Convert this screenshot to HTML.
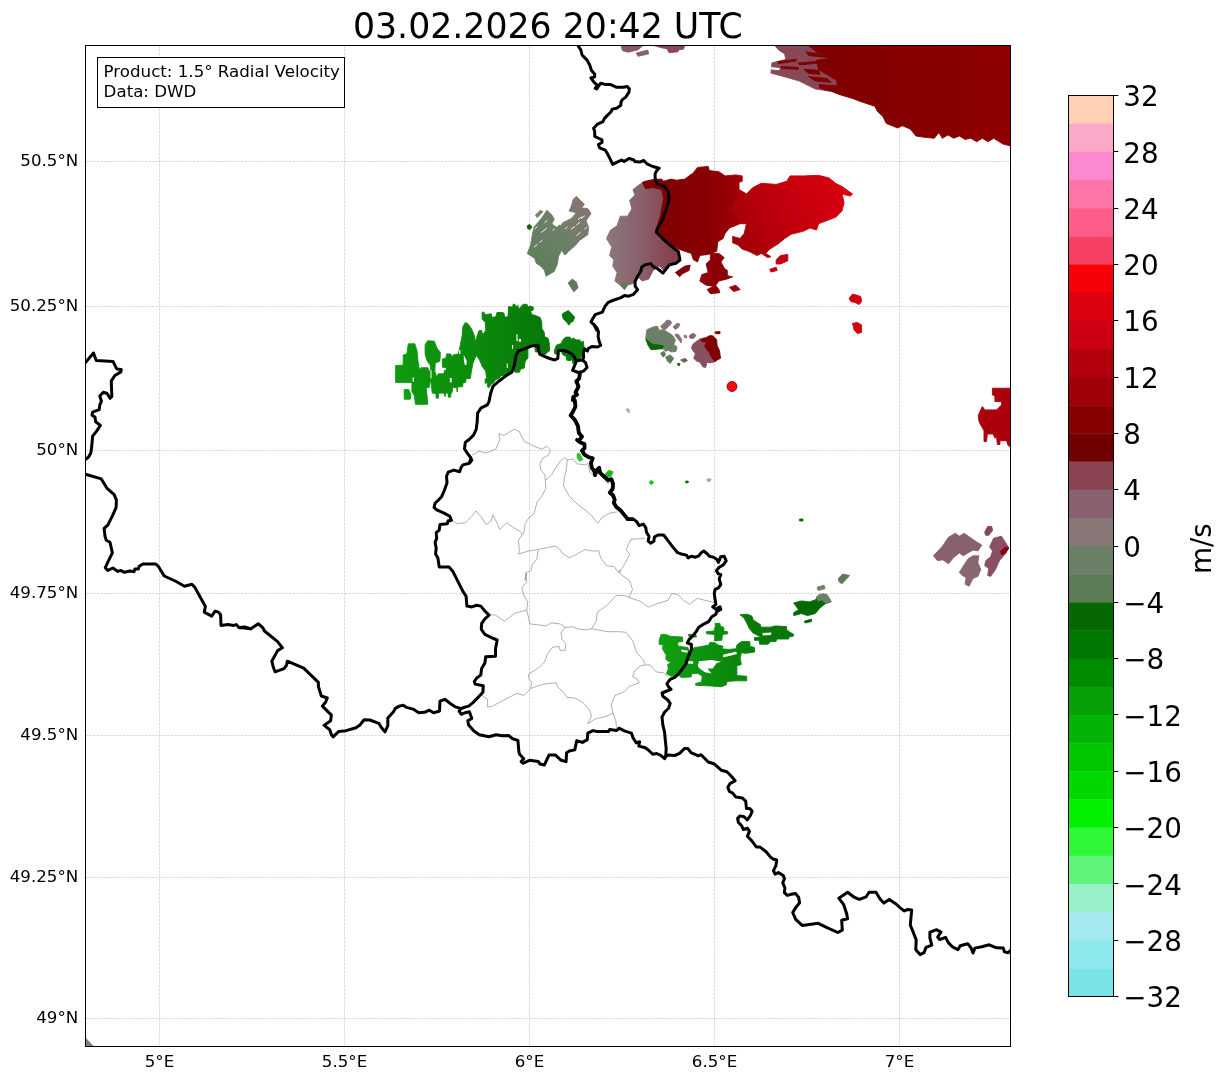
<!DOCTYPE html>
<html lang="en"><head><meta charset="utf-8"><title>03.02.2026 20:42 UTC - 1.5° Radial Velocity</title>
<style>html,body{margin:0;padding:0;background:#fff}body{width:1225px;height:1081px;overflow:hidden}svg{display:block}text{font-family:"DejaVu Sans","Liberation Sans",sans-serif;fill:#000}</style></head><body>
<svg width="1225" height="1081" viewBox="0 0 1225 1081">
<rect width="1225" height="1081" fill="#fff"/>
<defs><clipPath id="ax"><rect x="85.5" y="45.5" width="925.0" height="1001.0"/></clipPath></defs>
<g clip-path="url(#ax)">
<g stroke="#808080" stroke-opacity="0.45" stroke-width="0.65" stroke-dasharray="2.6,1.1" fill="none">
<line x1="159.5" y1="45.5" x2="159.5" y2="1046.5"/>
<line x1="344.5" y1="45.5" x2="344.5" y2="1046.5"/>
<line x1="529.5" y1="45.5" x2="529.5" y2="1046.5"/>
<line x1="714.5" y1="45.5" x2="714.5" y2="1046.5"/>
<line x1="899.5" y1="45.5" x2="899.5" y2="1046.5"/>
<line x1="85.5" y1="161.5" x2="1010.5" y2="161.5"/>
<line x1="85.5" y1="306.5" x2="1010.5" y2="306.5"/>
<line x1="85.5" y1="450.5" x2="1010.5" y2="450.5"/>
<line x1="85.5" y1="593.5" x2="1010.5" y2="593.5"/>
<line x1="85.5" y1="735.5" x2="1010.5" y2="735.5"/>
<line x1="85.5" y1="877.5" x2="1010.5" y2="877.5"/>
<line x1="85.5" y1="1018.5" x2="1010.5" y2="1018.5"/>
</g>
<defs>
<linearGradient id="gTR" gradientUnits="userSpaceOnUse" x1="800" y1="0" x2="1010" y2="0"><stop offset="0" stop-color="#7c0000"/><stop offset="0.5" stop-color="#860000"/><stop offset="1" stop-color="#8e0000"/></linearGradient>
<linearGradient id="gMV" gradientUnits="userSpaceOnUse" x1="610" y1="0" x2="672" y2="0"><stop offset="0" stop-color="#8b7679"/><stop offset="0.5" stop-color="#89606c"/><stop offset="1" stop-color="#88404e"/></linearGradient>
<linearGradient id="gDR" gradientUnits="userSpaceOnUse" x1="650" y1="0" x2="745" y2="0"><stop offset="0" stop-color="#7c0000"/><stop offset="0.65" stop-color="#8a0002"/><stop offset="1" stop-color="#a20006"/></linearGradient>
<linearGradient id="gBR" gradientUnits="userSpaceOnUse" x1="735" y1="245" x2="850" y2="185"><stop offset="0" stop-color="#9e0007"/><stop offset="0.3" stop-color="#b6000a"/><stop offset="0.6" stop-color="#c8000e"/><stop offset="1" stop-color="#d80010"/></linearGradient>
<linearGradient id="gGG" gradientUnits="userSpaceOnUse" x1="535" y1="265" x2="590" y2="205"><stop offset="0" stop-color="#5f7e5b"/><stop offset="0.5" stop-color="#6c8068"/><stop offset="1" stop-color="#8a7272"/></linearGradient>
<linearGradient id="gG5" gradientUnits="userSpaceOnUse" x1="400" y1="0" x2="550" y2="0"><stop offset="0" stop-color="#0e9a0e"/><stop offset="0.5" stop-color="#0b8a0b"/><stop offset="1" stop-color="#077607"/></linearGradient>
<linearGradient id="gG10" gradientUnits="userSpaceOnUse" x1="660" y1="0" x2="750" y2="0"><stop offset="0" stop-color="#10a010"/><stop offset="1" stop-color="#098209"/></linearGradient>
</defs>
<g stroke="none">
<path fill="url(#gTR)" stroke="url(#gTR)" stroke-width="0.9" d="M804.0,45.0 1012.0,45.0 1012.0,146.3 1002.9,144.0 993.7,138.3 988.0,141.7 982.3,138.3 976.6,141.7 970.9,138.3 965.1,139.4 959.4,136.0 953.7,138.3 948.0,134.9 942.3,138.3 938.9,132.6 934.3,138.3 922.9,137.1 916.0,136.0 910.3,129.1 902.3,125.7 897.7,128.0 886.3,123.4 882.9,116.6 877.1,110.9 874.9,106.3 861.1,101.7 852.0,98.3 840.6,94.9 831.4,91.4 824.6,90.3 836.0,83.4 817.7,69.7 815.4,59.4 833.7,57.1 817.7,53.7 806.3,46.9Z"/>
<path fill="#884858" stroke="#884858" stroke-width="0.9" d="M774.3,45.0 806.3,45.0 817.7,53.7 833.7,57.1 815.4,59.4 817.7,69.7 836.0,81.1 836.0,85.7 824.6,90.3 815.4,89.1 799.4,81.1 788.0,77.7 770.9,73.1 772.0,62.9 785.7,59.4 784.6,53.7 778.9,50.3Z"/>
<path fill="#800000" stroke="#800000" stroke-width="0.9" d="M806.3,51.9 833.7,56.0 832.6,58.3 808.6,55.5Z"/>
<path fill="#800000" stroke="#800000" stroke-width="0.9" d="M777.7,61.7 796.0,59.2 796.5,61.0 778.9,63.5Z"/>
<path fill="#800000" stroke="#800000" stroke-width="0.9" d="M781.1,66.5 798.3,67.4 798.3,69.3 781.6,68.6Z"/>
<path fill="#800000" stroke="#800000" stroke-width="0.9" d="M798.3,62.9 815.9,61.5 816.8,63.3 799.4,64.9Z"/>
<path fill="#800000" stroke="#800000" stroke-width="0.9" d="M804.0,69.3 818.9,70.2 820.0,74.3 808.6,73.4Z"/>
<path fill="#800000" stroke="#800000" stroke-width="0.9" d="M808.6,76.6 826.9,78.4 831.4,82.3 815.4,81.1Z"/>
<path fill="#800000" stroke="#800000" stroke-width="0.9" d="M818.9,84.6 836.0,85.7 826.9,89.8 820.0,88.5Z"/>
<path fill="#fff" stroke="#fff" stroke-width="0" d="M769.7,67.0 780.0,67.9 778.9,70.2 769.7,69.3Z"/>
<path fill="#885868" stroke="#885868" stroke-width="0.9" d="M621.1,45.6 642.9,45.6 638.0,49.8 628.2,52.2 622.4,50.6Z"/>
<path fill="#886070" stroke="#886070" stroke-width="0.9" d="M636.3,53.1 647.8,50.1 648.6,53.9 638.0,56.3Z"/>
<path fill="#884858" stroke="#884858" stroke-width="0.9" d="M654.3,45.6 684.5,45.6 683.7,49.0 678.8,49.8 678.0,51.8 669.0,52.7 667.3,49.0 661.6,47.8Z"/>
<path fill="url(#gMV)" stroke="url(#gMV)" stroke-width="0.9" d="M638.2,185.5 644.6,181.2 653.1,180.2 657.3,183.3 663.7,187.6 665.8,198.2 661.6,215.2 656.2,230.0 663.7,240.7 674.3,249.1 679.6,255.5 677.5,261.9 670.0,266.1 663.7,270.4 659.4,266.1 653.1,270.4 648.8,278.9 642.4,281.0 636.1,275.7 634.0,283.1 627.6,285.2 624.4,289.5 620.2,285.2 614.9,281.0 617.0,272.5 612.7,266.1 613.8,259.8 609.6,255.5 611.7,247.0 606.4,238.5 610.6,230.0 617.0,225.8 620.2,216.2 627.6,216.2 631.8,208.8 629.7,200.3 635.0,195.0 632.9,189.7Z"/>
<path fill="url(#gDR)" stroke="url(#gDR)" stroke-width="0.9" d="M642.4,182.3 653.1,179.5 661.6,179.1 663.7,181.2 671.1,179.1 676.4,180.2 684.9,179.1 693.4,172.7 697.6,167.4 708.2,166.4 709.3,170.6 718.9,171.7 725.2,175.9 735.8,174.9 742.2,175.9 742.2,181.2 739.0,182.3 739.0,189.7 746.4,194.0 748.6,198.2 735.8,202.4 729.5,210.9 738.0,216.2 740.1,223.7 729.5,227.9 725.2,233.2 723.1,238.5 717.8,241.7 716.7,251.3 708.2,254.4 699.8,255.5 697.6,261.9 693.4,259.8 691.3,253.4 684.9,251.3 678.5,249.1 670.0,243.8 661.6,238.5 656.2,230.0 660.5,215.2 663.7,198.2 661.6,189.7 653.1,187.6 645.6,188.7Z"/>
<path fill="url(#gBR)" stroke="url(#gBR)" stroke-width="0.9" d="M746.4,194.0 752.8,187.6 761.3,183.3 776.2,184.4 786.8,181.2 790.0,175.9 803.8,175.9 818.6,175.3 829.2,178.0 835.6,183.3 842.0,186.5 852.6,194.0 850.4,196.1 842.0,194.0 844.1,202.4 842.0,210.9 835.6,217.3 827.1,220.5 818.6,223.7 816.5,230.0 810.1,227.9 803.8,231.1 791.0,234.3 784.7,238.5 778.3,243.8 769.8,249.1 765.6,253.4 770.9,256.6 767.7,257.6 761.3,253.4 757.1,255.5 748.6,251.3 742.2,249.1 738.0,244.9 732.7,242.8 732.7,236.4 740.1,238.5 744.3,233.2 746.4,223.7 740.1,223.7 738.0,216.2 729.5,210.9 735.8,202.4 739.0,189.7Z"/>
<path fill="#800010" stroke="#800010" stroke-width="0.9" d="M675.3,272.5 684.9,266.1 690.2,265.1 689.1,270.4 682.8,273.6 679.6,276.7Z"/>
<path fill="#8c0008" stroke="#8c0008" stroke-width="0.9" d="M710.4,253.4 718.9,253.4 724.2,257.6 721.0,261.9 724.2,268.2 727.3,270.4 727.3,275.7 732.7,276.7 727.3,278.9 718.9,281.0 715.7,285.2 718.9,289.5 719.9,292.7 710.4,293.7 707.2,289.5 713.6,286.3 706.1,285.2 699.8,281.0 701.9,274.6 708.2,272.5 706.1,264.0 710.4,259.8Z"/>
<path fill="#a0000c" stroke="#a0000c" stroke-width="0.9" d="M729.5,287.3 735.8,285.2 740.1,289.5 733.7,291.6Z"/>
<path fill="#c00010" stroke="#c00010" stroke-width="0.9" d="M776.2,259.8 780.4,255.5 787.8,254.4 787.8,260.8 780.4,264.0 776.2,264.0Z"/>
<path fill="#c00010" stroke="#c00010" stroke-width="0.9" d="M769.8,269.3 776.2,267.2 777.2,270.4 770.9,272.1Z"/>
<path fill="#5c7c58" stroke="#5c7c58" stroke-width="0.9" d="M620.2,285.2 624.4,282.0 627.6,285.2 624.4,289.5Z"/>
<path fill="url(#gGG)" stroke="url(#gGG)" stroke-width="0.9" d="M527.3,253.5 530.6,245.3 532.2,235.5 533.9,227.3 538.0,222.4 542.0,217.6 546.9,210.2 551.8,215.1 554.3,219.2 551.8,224.1 556.7,227.3 563.3,222.4 571.4,218.4 576.3,212.7 569.0,211.0 571.4,206.1 573.1,199.6 576.3,196.3 584.5,204.5 581.2,207.8 587.8,208.6 591.0,213.5 586.1,220.8 588.6,227.3 587.8,234.7 579.6,240.4 575.5,245.3 568.2,251.8 564.9,255.1 561.6,250.2 558.4,256.7 557.6,263.3 554.3,271.4 548.6,274.7 546.1,276.3 544.5,270.6 541.2,266.5 536.3,263.3 534.7,258.4Z"/>
<path fill="#7a7a70" stroke="#7a7a70" stroke-width="0.9" d="M535.5,215.1 540.4,210.2 542.9,211.8 537.1,217.6Z"/>
<path fill="#5c7c58" stroke="#5c7c58" stroke-width="0.9" d="M568.2,282.9 572.2,279.1 576.3,282.0 578.0,287.8 573.9,291.8 570.6,286.9Z"/>
<path fill="#0a7010" stroke="#0a7010" stroke-width="0.9" d="M562.4,313.9 568.2,310.6 574.7,317.1 569.0,324.5 563.3,318.8Z"/>
<path fill="url(#gG5)" stroke="url(#gG5)" stroke-width="0.9" d="M395.6,382.4 395.6,365.6 403.2,365.1 403.2,355.0 406.8,353.9 408.3,343.8 414.9,343.8 417.0,350.9 418.0,361.1 419.5,370.2 421.0,367.7 427.7,367.7 429.2,371.2 430.7,370.2 430.2,365.1 427.2,361.1 425.1,353.9 425.1,344.8 427.7,340.7 434.3,341.2 436.8,347.8 440.4,352.4 439.9,361.1 435.3,363.1 434.8,371.2 436.8,377.4 438.3,373.8 443.9,373.8 444.5,370.2 446.5,370.2 446.5,367.7 442.4,367.2 442.4,359.0 446.0,358.0 446.5,353.9 450.6,353.9 452.1,357.0 453.1,355.0 458.2,353.9 460.2,345.8 462.3,334.6 462.8,327.0 465.3,322.4 467.9,323.9 471.4,328.5 474.0,334.6 475.5,341.7 477.5,334.6 479.1,330.5 481.6,330.5 482.6,334.6 485.7,330.5 485.2,321.9 482.1,319.3 482.1,312.2 484.1,312.2 485.2,314.8 491.3,313.7 491.8,318.3 495.9,316.8 496.9,312.7 503.0,312.7 504.0,317.3 508.1,316.8 508.6,306.6 510.0,306.6 510.0,371.2 507.0,375.8 501.5,375.3 499.9,371.2 497.9,378.4 492.8,378.9 492.3,382.4 489.2,387.5 487.7,387.0 487.2,382.4 485.2,383.5 485.2,378.9 486.7,378.4 485.7,371.2 482.1,366.2 479.6,360.1 477.5,357.0 476.0,355.5 475.5,357.0 473.0,363.1 471.4,371.2 470.4,378.4 465.8,378.9 465.8,382.4 462.8,383.0 462.8,386.5 457.7,387.0 457.2,392.1 456.7,387.5 452.6,387.5 452.1,392.6 451.1,392.6 450.6,397.2 448.5,397.2 448.0,393.1 445.5,393.1 445.0,396.7 443.9,393.1 438.9,393.1 438.3,398.2 436.3,398.2 435.8,393.6 432.2,393.1 431.7,388.5 430.7,378.9 429.2,387.5 426.1,388.0 427.2,396.7 427.7,404.3 415.4,404.3 414.4,395.7 411.9,391.6 411.9,382.4 400.2,382.4Z"/>
<path fill="#fff" stroke="#fff" stroke-width="0" d="M463.8,355.0 466.8,361.1 466.3,365.1 464.8,365.1 463.8,360.1Z"/>
<path fill="#fff" stroke="#fff" stroke-width="0" d="M459.0,349.9 460.4,349.9 460.4,353.9 459.0,353.9Z"/>
<path fill="#fff" stroke="#fff" stroke-width="0" d="M449.8,377.9 451.7,377.9 451.7,382.4 449.8,382.4Z"/>
<path fill="#fff" stroke="#fff" stroke-width="0" d="M412.6,377.4 414.0,377.4 414.0,381.4 412.6,381.4Z"/>
<path fill="#fff" stroke="#fff" stroke-width="0" d="M430.5,370.2 431.5,370.2 431.5,378.4 430.5,378.4Z"/>
<path fill="#10a010" stroke="#10a010" stroke-width="0.9" d="M404.2,389.6 408.8,389.6 410.9,394.7 410.4,399.2 404.2,399.2Z"/>
<path fill="url(#gG5)" stroke="url(#gG5)" stroke-width="0.9" d="M490.0,314.4 491.9,317.2 496.9,317.2 497.4,312.6 503.9,313.0 504.8,318.1 508.0,318.1 509.4,307.0 512.7,307.0 513.1,304.3 515.0,304.3 515.4,307.0 517.8,305.2 518.7,309.8 520.5,307.0 523.3,304.3 527.0,304.3 527.9,307.0 530.7,306.1 533.5,307.5 533.0,310.3 530.7,310.7 531.6,314.4 536.3,315.8 540.4,317.7 541.8,322.8 541.8,328.3 544.1,332.0 544.6,336.6 548.3,338.5 549.2,343.1 549.7,350.5 547.8,351.9 545.5,354.2 542.7,354.7 539.0,354.2 538.1,351.9 535.3,351.9 534.9,345.9 527.9,346.8 527.9,357.9 525.2,361.6 524.2,368.1 520.5,369.0 519.6,372.2 515.0,372.2 513.6,368.1 513.1,371.8 506.7,374.6 501.1,375.5 499.3,378.3 495.6,379.7 492.8,383.8 490.0,380.1Z"/>
<path fill="#fff" stroke="#fff" stroke-width="0" d="M516.4,334.3 517.6,334.3 517.6,341.3 516.4,341.3Z"/>
<path fill="#fff" stroke="#fff" stroke-width="0" d="M518.9,338.9 521.0,338.9 521.0,341.7 518.9,341.7Z"/>
<path fill="#fff" stroke="#fff" stroke-width="0" d="M512.0,345.0 513.1,345.0 513.1,348.7 512.0,348.7Z"/>
<path fill="#fff" stroke="#fff" stroke-width="0" d="M506.8,363.5 507.8,363.5 507.8,368.1 506.8,368.1Z"/>
<path fill="#087c08" stroke="#087c08" stroke-width="0.9" d="M554.3,350.5 556.6,345.0 561.2,343.6 563.1,339.4 565.9,337.1 570.0,337.1 571.4,339.4 573.3,338.0 576.0,339.9 579.7,339.9 581.1,342.2 583.4,341.3 583.9,346.8 585.3,347.7 582.5,354.2 580.7,358.8 577.0,358.8 575.1,363.0 572.8,363.5 572.3,359.8 569.6,360.7 566.8,360.2 565.9,356.1 563.1,355.1 561.2,351.4 558.5,351.0 556.6,354.2 554.8,353.7Z"/>
<path fill="#087808" stroke="#087808" stroke-width="0.9" d="M562.2,315.8 564.0,313.0 568.6,311.2 571.0,313.5 571.4,316.7 574.7,317.2 572.8,321.8 570.0,322.3 569.6,324.6 568.2,324.6 567.7,320.9 564.0,319.1Z"/>
<path fill="#066800" stroke="#066800" stroke-width="0.9" d="M527.3,225.7 529.5,224.4 531.9,226.5 530.3,229.5 527.7,228.7Z"/>
<path fill="#6c8068" stroke="#6c8068" stroke-width="0.9" d="M645.7,337.7 646.9,329.7 653.1,326.9 657.7,326.3 658.9,330.3 663.4,329.7 669.1,333.1 672.6,335.4 675.4,340.0 673.7,344.6 677.1,346.9 676.0,351.4 671.4,352.0 668.0,350.3 665.7,351.4 663.4,349.1 660.0,348.6 654.3,349.1 650.9,349.1 648.6,344.6Z"/>
<path fill="#066800" stroke="#066800" stroke-width="0.9" d="M645.7,338.9 652.0,344.0 658.9,345.1 663.4,345.7 662.3,348.6 654.3,349.4 650.9,349.6 648.0,345.1Z"/>
<path fill="#887078" stroke="#887078" stroke-width="0.9" d="M660.6,326.3 665.1,322.3 666.9,320.0 670.9,321.1 671.4,323.4 668.0,326.9 665.1,329.7 662.9,329.1Z"/>
<path fill="#887078" stroke="#887078" stroke-width="0.9" d="M673.1,326.9 677.1,323.4 680.0,324.0 678.3,327.4 675.4,329.5Z"/>
<path fill="#887078" stroke="#887078" stroke-width="0.9" d="M674.9,334.3 678.3,334.3 681.7,339.4 681.1,342.9 678.9,340.0 676.0,336.6Z"/>
<path fill="#887078" stroke="#887078" stroke-width="0.9" d="M684.0,335.4 686.3,335.4 686.9,337.7 684.6,337.7Z"/>
<path fill="#886070" stroke="#886070" stroke-width="0.9" d="M689.1,336.0 693.1,333.1 696.0,335.4 693.7,338.3 690.3,338.3Z"/>
<path fill="#5c7c58" stroke="#5c7c58" stroke-width="0.9" d="M660.6,353.1 664.0,351.4 665.7,354.9 662.9,357.1Z"/>
<path fill="#5c7c58" stroke="#5c7c58" stroke-width="0.9" d="M665.7,357.1 670.3,354.9 673.7,358.3 670.3,363.4 667.4,361.1Z"/>
<path fill="#706058" stroke="#706058" stroke-width="0.9" d="M680.6,360.0 685.1,358.3 687.4,360.6 684.0,362.3Z"/>
<path fill="#066800" stroke="#066800" stroke-width="0.9" d="M677.7,363.4 680.0,363.4 679.4,365.7 677.7,365.1Z"/>
<path fill="#885060" stroke="#885060" stroke-width="0.9" d="M691.4,348.0 693.1,344.0 696.0,341.7 700.0,338.9 704.6,337.7 706.9,342.3 704.6,345.7 706.9,350.3 710.3,354.9 714.9,361.7 710.3,362.9 706.9,362.3 705.7,367.4 702.9,366.9 700.0,362.3 696.6,361.1 693.7,358.3 695.4,353.7 693.1,350.9Z"/>
<path fill="#800000" stroke="#800000" stroke-width="0.9" d="M700.6,340.0 704.6,338.3 710.3,335.4 713.1,336.0 716.6,339.4 717.1,345.7 719.4,350.3 720.6,358.3 717.1,360.0 714.9,361.7 711.4,357.1 709.1,352.6 706.3,349.1 704.6,345.7 706.9,342.3 702.3,341.7Z"/>
<path fill="#800000" stroke="#800000" stroke-width="0.9" d="M714.9,332.0 720.0,331.4 720.0,333.7 715.4,333.7Z"/>
<path fill="#d00010" stroke="#d00010" stroke-width="0.9" d="M849.1,298.3 852.5,294.2 856.6,295.0 860.8,296.7 861.6,301.6 859.1,304.6 855.0,302.5 850.8,301.6Z"/>
<path fill="#d00010" stroke="#d00010" stroke-width="0.9" d="M852.5,323.3 857.5,322.5 861.6,325.0 861.6,332.5 857.5,333.6 854.1,330.0Z"/>
<path fill="#ac000c" stroke="#ac000c" stroke-width="0.9" d="M992.4,388.2 1010.7,388.2 1010.7,446.5 1008.2,445.7 1006.5,440.7 999.9,440.7 999.9,444.5 997.4,444.5 996.5,436.5 994.9,438.2 993.2,434.0 987.4,434.0 986.5,441.5 984.0,441.5 984.0,430.7 981.5,426.5 979.0,421.5 978.2,415.7 980.7,409.9 982.4,406.6 984.9,409.9 996.5,409.9 1001.5,404.9 1001.5,401.6 994.9,401.6 994.9,395.7 992.4,394.9Z"/>
<path fill="#886070" stroke="#886070" stroke-width="0.9" d="M933.4,555.8 942.6,546.0 948.5,537.2 955.3,533.3 959.3,536.2 964.2,533.3 974.0,540.2 981.8,545.1 977.9,550.9 973.0,550.0 968.1,552.9 963.2,555.8 959.3,552.9 953.4,557.8 948.5,563.7 942.6,559.8 937.7,560.7Z"/>
<path fill="#88686e" stroke="#88686e" stroke-width="0.9" d="M959.3,572.5 964.2,564.7 968.1,558.8 973.0,555.8 978.9,555.8 977.9,562.7 980.8,569.6 977.9,576.4 973.0,578.4 969.1,586.2 965.1,584.2 966.1,577.4 962.2,575.4Z"/>
<path fill="#884450" stroke="#884450" stroke-width="0.9" d="M984.7,532.3 987.7,526.4 991.6,526.4 992.6,530.4 988.7,535.3 985.7,535.3Z"/>
<path fill="#885062" stroke="#885062" stroke-width="0.9" d="M989.6,547.0 993.6,538.2 1001.4,536.2 1005.3,542.1 1008.8,548.0 1005.3,553.9 999.4,560.7 995.5,569.6 990.6,576.4 987.7,575.4 988.7,568.6 984.7,565.6 985.7,560.7 990.6,556.8 992.6,550.9Z"/>
<path fill="#8c0010" stroke="#8c0010" stroke-width="0.9" d="M1000.4,551.3 1005.3,547.0 1008.8,548.0 1005.3,553.3 1001.8,554.9Z"/>
<path fill="#066800" stroke="#066800" stroke-width="0.9" d="M793.7,602.9 801.6,600.9 809.4,601.9 815.3,599.9 818.2,596.0 824.1,594.0 828.0,597.0 830.9,601.9 825.1,603.8 819.2,608.7 815.3,613.6 807.4,615.6 801.6,613.6 793.7,615.6 793.7,612.7 798.6,609.7Z"/>
<path fill="#6c8068" stroke="#6c8068" stroke-width="0.9" d="M816.2,597.0 820.2,594.0 827.0,594.4 831.3,601.5 826.0,603.4 822.1,599.9 818.2,600.9Z"/>
<path fill="#6c8068" stroke="#6c8068" stroke-width="0.9" d="M817.2,587.2 824.1,585.2 825.1,588.6 818.2,590.5Z"/>
<path fill="#5c7c58" stroke="#5c7c58" stroke-width="0.9" d="M838.4,578.4 842.7,574.1 849.6,575.4 845.6,579.9 841.7,583.9 838.8,581.3Z"/>
<path fill="#066800" stroke="#066800" stroke-width="0.9" d="M799.6,519.0 802.9,519.0 802.9,521.0 799.6,521.0Z"/>
<path fill="#066800" stroke="#066800" stroke-width="0.9" d="M804.5,621.1 811.3,619.1 811.7,621.5 805.1,623.0Z"/>
<path fill="url(#gG10)" stroke="url(#gG10)" stroke-width="0.9" d="M659.1,640.3 661.1,634.4 665.7,634.4 670.9,636.4 682.7,637.0 682.7,641.6 677.4,642.2 678.1,646.2 687.9,647.5 689.2,651.4 694.4,647.5 700.3,646.8 708.8,644.9 710.1,642.2 715.3,642.9 717.9,644.9 723.1,646.2 721.8,648.8 728.4,649.4 736.2,648.8 736.9,644.9 741.4,641.6 749.9,641.6 749.9,646.2 754.5,647.5 754.5,652.0 746.0,653.3 741.4,652.7 740.1,657.9 741.4,664.4 736.9,665.8 736.9,675.6 746.7,676.2 746.7,680.8 736.2,680.8 727.1,681.4 726.4,684.7 721.2,686.7 711.4,686.0 695.7,685.3 695.7,683.4 701.6,682.1 702.2,676.2 698.3,673.6 691.8,673.6 691.1,676.9 681.3,677.5 678.1,674.9 670.9,676.2 666.3,673.6 668.3,669.0 667.6,664.4 670.9,663.1 665.7,659.2 666.3,655.3 662.4,648.8 663.1,644.9 659.1,644.2Z"/>
<path fill="#fff" stroke="#fff" stroke-width="0" d="M699.0,661.2 711.4,659.9 721.2,661.8 716.6,663.1 712.7,668.4 707.5,668.4 711.4,673.6 704.9,672.3 699.6,668.4 697.7,665.8Z"/>
<path fill="#fff" stroke="#fff" stroke-width="0" d="M723.1,654.7 736.2,651.4 736.9,654.0 727.1,656.6 723.1,657.3Z"/>
<path fill="#fff" stroke="#fff" stroke-width="0" d="M681.3,649.4 687.9,650.7 687.2,652.7 681.3,651.4Z"/>
<path fill="#fff" stroke="#fff" stroke-width="0" d="M687.9,661.2 693.1,661.2 693.1,663.8 688.5,663.8Z"/>
<path fill="#0c8c0c" stroke="#0c8c0c" stroke-width="0.9" d="M706.2,631.8 714.0,631.1 715.3,626.6 715.3,623.3 719.9,623.3 720.5,626.6 723.8,627.2 723.8,631.1 727.7,631.8 727.7,633.8 722.5,634.4 721.8,640.3 714.7,640.9 714.7,634.4 706.8,633.8Z"/>
<path fill="#087808" stroke="#087808" stroke-width="0.9" d="M740.1,614.8 747.3,614.2 751.9,616.1 753.2,620.0 760.4,624.6 761.0,627.2 770.2,627.2 775.4,625.9 786.5,626.6 786.5,629.2 789.1,631.8 793.7,634.4 793.0,636.4 789.8,636.4 788.4,639.0 776.7,639.0 776.0,641.6 770.2,641.6 768.2,644.2 759.7,644.2 759.1,640.3 754.5,640.3 754.5,637.7 761.0,637.0 753.2,633.1 749.3,628.5 747.3,624.0 744.0,618.1Z"/>
<path fill="#fff" stroke="#fff" stroke-width="0" d="M762.3,633.1 771.5,632.4 770.8,635.1 763.0,635.5Z"/>
<path fill="#0c860c" stroke="#0c860c" stroke-width="0.9" d="M688.5,634.4 695.7,634.4 696.4,637.0 689.2,637.0Z"/>
<path fill="#30c030" stroke="#30c030" stroke-width="0.9" d="M577.1,453.9 579.6,453.1 582.9,459.6 579.6,461.2 577.1,458.0Z"/>
<path fill="#20b820" stroke="#20b820" stroke-width="0.9" d="M604.1,475.1 609.0,470.2 613.1,471.8 611.4,475.9 607.3,477.6 608.2,483.3 605.7,480.8Z"/>
<path fill="#18c018" stroke="#18c018" stroke-width="0.9" d="M649.1,482.4 651.4,480.2 653.7,482.4 651.4,484.7Z"/>
<path fill="#066800" stroke="#066800" stroke-width="0.9" d="M685.7,481.1 688.2,481.1 688.2,482.8 685.7,482.8Z"/>
<path fill="#90b090" stroke="#90b090" stroke-width="0.9" d="M706.9,479.2 711.0,478.9 710.2,481.1 707.8,481.6Z"/>
<path fill="#90b8a0" stroke="#90b8a0" stroke-width="0.9" d="M626.1,409.0 629.1,409.0 629.1,413.1 627.4,411.4Z"/>
<g stroke="#fff" stroke-width="0.9" fill="none"><path d="M534.7,229.0 L537.5,226.4"/><path d="M541.2,232.6 L546.9,228.0"/><path d="M552.7,230.6 L554.4,228.8"/><path d="M560.0,225.1 L562.0,223.4"/><path d="M571.1,229.3 L575.0,226.4"/><path d="M576.3,225.1 L579.9,222.3"/><path d="M581.2,218.5 L584.8,215.8"/><path d="M533.9,247.3 L537.5,244.3"/><path d="M539.6,242.4 L542.4,240.2"/><path d="M576.3,235.8 L580.6,232.2"/><path d="M584.5,229.3 L587.1,227.2"/><path d="M578.0,219.3 L582.2,216.6"/><path d="M544.5,222.8 L547.3,220.2"/><path d="M564.9,229.0 L567.5,227.0"/></g>
<path fill="#808080" d="M85,1037 L94.5,1047 L85,1047Z"/>
</g>
<g fill="none" stroke="#8c8c8c" stroke-width="0.7" stroke-linejoin="round">
<path d="M472.3,455.1 479.2,451.1 486.0,453.1 495.8,449.2 499.8,439.4 498.8,433.5 503.7,435.5 514.4,429.2 519.3,431.6 524.2,441.3 534.0,446.2 541.9,449.2 546.8,446.2 550.7,450.2 548.7,455.1 542.9,458.0 539.9,463.9 540.9,469.8 544.8,474.7 545.4,480.5 545.8,488.4 541.9,496.2 537.0,502.1 534.0,513.8 528.2,518.7 525.2,523.6 524.2,531.5 522.3,534.4"/>
<path d="M451.8,519.7 456.7,523.6 465.5,522.7 471.3,516.8 476.2,510.9 481.1,516.8 486.0,524.6 490.9,521.7 492.9,514.8 496.8,522.7 499.8,529.5 506.6,522.7 513.5,527.6 520.3,531.5 523.3,535.4"/>
<path d="M522.3,534.4 518.4,540.3 519.3,550.1 518.4,554.0 528.2,551.1 538.0,549.5 549.7,547.1 555.6,546.2 559.5,549.1 563.4,554.0 569.3,557.9 577.1,554.0 585.0,549.5 592.8,551.1 598.7,550.7 600.7,557.9 606.5,565.8 614.4,566.7 618.3,572.6 619.9,570.0 619.9,572.9 622.8,575.9 629.7,580.8 632.6,589.6 628.7,597.4 624.8,595.5 616.0,595.5 607.1,605.3 597.3,612.1 596.4,620.9 591.5,628.8"/>
<path d="M538.0,550.1 537.0,558.9 532.1,564.8 531.1,570.7 526.2,572.6 525.2,580.4 525.8,572.9 526.8,581.8 521.9,587.6 523.9,595.5 527.8,602.3 526.8,610.2 528.8,619.0 529.8,623.9"/>
<path d="M545.4,480.5 551.7,474.7 555.6,467.8 560.5,460.9 564.4,457.6 567.3,460.0 566.4,468.8 564.4,477.6 563.4,485.4 569.3,496.2 577.1,504.0 585.0,509.9 591.8,515.8 597.7,523.2 602.6,516.8 610.4,512.9 617.3,511.9"/>
<path d="M567.3,460.0 573.2,459.0 577.1,463.9 586.0,464.9 587.9,462.9 589.9,472.7 594.8,475.6"/>
<path d="M644.7,538.3 637.9,538.9 631.0,539.3 628.1,545.2 626.1,550.1 630.0,554.0 624.2,564.8 619.3,572.6"/>
<path d="M489.6,614.7 495.5,615.1 504.3,621.3 515.1,613.1 526.8,610.2"/>
<path d="M529.8,623.9 538.6,624.9 546.4,625.8 551.3,622.9 560.1,623.9 565.0,627.4 571.9,626.8 577.8,628.8 585.6,629.8 591.5,628.8 597.3,629.8 607.1,631.7 618.9,631.7 625.8,632.3 632.6,640.5 636.5,652.3 643.4,660.1 645.3,665.0"/>
<path d="M628.7,597.4 640.4,601.3 648.3,607.2 658.1,603.3 667.9,600.4 671.8,593.5 677.7,594.5 683.6,600.4 689.4,604.3 697.3,598.4 708.0,601.0 713.9,602.5"/>
<path d="M565.0,627.4 561.1,632.7 562.1,639.6 566.0,643.5 565.0,650.3 560.1,650.3 559.1,646.4 552.3,647.4 547.4,654.2 544.4,662.1 538.6,668.0 528.8,673.8 528.4,677.8 531.7,682.7 530.7,688.5"/>
<path d="M530.7,688.5 538.6,685.6 547.4,683.6 556.2,682.7 558.2,687.6 564.0,692.4 567.0,697.3 575.8,698.3 583.6,703.2 589.5,710.1 591.5,716.0 587.6,723.8 595.4,718.9 607.1,716.0 613.0,713.0"/>
<path d="M481.8,695.4 487.6,699.3 487.6,707.1 492.5,706.2 501.3,701.3 509.2,697.3 517.0,693.4 523.9,695.4 530.7,688.5"/>
<path d="M613.0,713.0 611.1,705.2 615.0,695.4 624.8,691.5 628.7,686.6 639.5,682.7 636.5,678.7 632.6,676.8 634.6,670.9 640.4,666.0 645.3,665.0 650.2,665.0 656.1,671.9 664.0,672.9 667.9,676.8"/>
<path d="M613.0,713.0 616.0,721.8 616.5,727.7"/>
</g>
<g fill="none" stroke="#000" stroke-width="3.0" stroke-linejoin="round" stroke-linecap="butt">
<path d="M577.9,45.7 580.8,49.8 582.1,55.0 587.3,60.4 589.8,65.3 591.4,70.2 594.7,74.3 594.7,76.7 590.9,77.9 593.9,82.1 597.5,85.4 595.2,88.3 596.8,89.0 598.8,85.7 600.7,83.3 605.3,84.4 610.2,84.4 616.7,87.3 623.3,87.3 627.3,86.5 629.3,88.7 629.0,92.2 625.7,97.1 622.4,99.6 621.1,101.7 620.8,105.3 616.7,108.2 612.2,109.1 611.0,111.8 606.9,115.9 604.5,118.4 602.9,121.6 597.1,124.4 593.6,128.2 594.7,131.4 594.7,136.3 598.0,138.0 602.0,139.9 602.0,142.5 598.4,144.5 599.6,147.8 605.3,150.2 607.8,154.3 610.2,159.2 612.7,164.4 616.7,162.4 621.6,160.0 624.1,161.6 629.0,158.4 633.9,160.0 634.7,161.6 639.6,162.1 643.7,160.5 646.9,163.8 652.7,166.5 659.2,168.2 656.7,170.6 655.1,173.9 655.1,178.0 656.7,182.9 658.0,184.1 664.5,186.5 668.6,192.2 669.1,199.6 666.1,209.4 662.9,219.2 657.1,229.0 656.3,232.2 662.9,238.8 670.2,245.3 678.4,251.8 680.0,260.0 675.9,263.3 669.4,264.9 666.1,269.0 662.9,273.1 658.0,269.0 653.1,266.5 650.6,263.6 644.9,264.9 641.6,267.3 640.8,271.4 637.6,276.3 635.1,281.2 635.1,286.1 637.6,289.7 633.5,294.3 628.6,296.2 624.5,295.6 620.4,297.9 613.9,300.0 608.2,302.4 604.9,306.5 602.4,312.2 595.1,314.7 592.7,318.8 591.0,322.0 594.3,325.3 596.7,330.2 594.0,324.4 597.0,328.1 598.5,331.8 598.1,336.3 599.2,341.5 600.7,345.2 597.7,347.0 591.8,346.6 588.1,348.5 587.4,351.1 584.4,349.2 583.3,352.6 583.7,357.0 582.6,360.3"/>
<path d="M582.6,360.3 585.5,362.6 587.0,367.4 583.7,371.1 578.5,372.5 572.6,370.3 576.3,361.4 578.5,360.3 582.6,360.3"/>
<path d="M580.0,372.2 579.2,378.5 576.3,381.4 577.7,384.4 578.5,386.6 577.0,389.6 575.5,392.2 577.0,394.7 573.3,397.0 572.9,400.0 574.7,400.0 575.5,406.5 573.1,411.4 570.6,415.5 574.7,419.6 578.0,426.1 578.8,432.7 582.0,436.7 578.8,440.8 577.1,440.0 580.4,442.4 584.5,444.1 584.5,448.2 582.0,450.6 584.5,454.7 588.6,457.1 592.7,458.3 591.0,462.9 591.8,467.8 594.3,471.0 595.1,475.1 596.7,470.2 599.2,467.8 600.0,472.7 604.1,476.7 608.2,480.0 611.4,479.2 613.1,484.1 612.6,489.0 609.8,492.6 613.1,495.5 614.7,499.6 613.9,502.9 616.3,506.9 620.4,510.2 624.5,515.1 627.8,519.2 633.5,519.2 636.7,521.6 639.2,525.7 643.3,524.1 645.7,527.3 646.5,532.2 649.0,536.3 648.2,541.2 650.6,543.2 653.9,541.2 654.4,537.1 658.0,535.0 663.7,535.0 667.8,540.4 672.7,546.9 677.6,552.7 682.4,554.3 686.5,555.1 688.2,557.9 691.4,556.2 695.5,557.2 698.8,555.9 701.2,552.7 703.7,551.0 706.9,553.5 709.4,556.2 713.5,557.2 716.7,559.2 718.4,562.4 720.8,556.7 724.1,556.2 726.2,560.8 723.3,564.9 719.2,567.3 716.4,570.6 718.4,573.9 720.8,574.7 719.2,578.8 720.8,584.5 718.4,587.8 715.1,589.4 714.3,593.5 715.1,600.0 715.1,599.6 715.9,604.5 712.7,606.9 715.9,609.4 720.0,606.9 720.8,609.4 716.7,611.8 715.9,614.3 711.8,616.7 708.6,621.6 703.7,624.1 698.8,627.3 696.3,631.4 693.1,635.5 689.0,639.6 687.3,642.9 691.4,644.5 691.4,649.4 688.2,656.7 685.7,664.1 680.0,672.2 675.1,677.1 670.2,679.3 666.9,683.7 668.6,686.9 671.0,689.4 666.9,691.0 662.0,693.0 662.9,696.2 667.8,700.0 670.2,703.3 668.6,708.2 664.5,712.2 662.0,717.1 662.9,725.3 664.5,731.8 665.3,740.0 666.2,748.6 665.7,756.7"/>
<path d="M576.3,361.4 574.8,357.7 571.8,354.0 567.4,351.5 562.2,350.3 558.5,350.7 558.1,354.8 557.8,358.5 554.8,360.0 549.6,358.5 544.4,356.3 540.0,354.4 538.8,351.0 538.0,345.3 531.4,346.1 524.9,348.6 518.4,351.0 515.9,355.9 514.3,365.7 511.8,372.2 505.3,376.3 498.8,381.2 493.1,386.1 490.6,393.5 489.0,401.6 487.3,404.9 480.8,408.2 477.6,413.1 477.2,421.2 476.2,429.4 473.5,435.1 469.4,439.2 465.3,442.4 464.5,449.0 467.8,453.9 471.0,458.0 469.4,462.9 471.8,460.0 469.4,463.3 462.9,464.9 461.2,467.3 459.6,471.8 453.9,470.1 448.2,472.2 446.5,476.3 447.0,482.9 444.1,491.0 441.6,496.7 439.2,499.2 435.1,503.3 434.0,507.3 436.7,509.8 444.1,513.1 449.8,516.3 451.4,520.4 448.2,520.7 447.3,523.7 440.0,524.5 439.2,530.2 436.2,532.7 436.7,538.4 435.1,542.4 436.2,548.2 435.6,553.9 437.9,558.0 439.2,566.9 449.0,566.9 453.1,571.8 458.0,581.6 462.9,591.4 466.1,596.3 466.9,606.1 471.8,606.9 476.7,605.3 480.8,606.1 484.9,611.0 489.0,615.1 484.9,618.8 481.6,623.7 481.3,629.4 484.9,634.3 491.4,637.6 497.1,640.0 495.5,649.0 495.5,656.3 485.7,656.7 484.9,662.9 481.6,668.6 480.8,675.1 476.7,678.0 474.3,681.6 475.1,684.1 483.3,685.7 482.9,692.2 478.4,697.1 472.7,702.9 468.6,706.1 462.9,707.8 461.2,708.6"/>
<path d="M461.2,708.6 459.1,711.0 461.2,714.3 465.3,712.7 469.4,711.8 471.8,718.4 467.8,720.8 468.6,724.9 473.5,730.6 479.2,734.7 489.0,736.8 496.3,734.7 502.0,735.8 508.6,735.5 512.7,738.8 517.9,740.4 518.9,751.8 519.6,754.3 523.7,758.7 521.2,761.6 522.9,763.3 529.4,760.3 538.4,761.6 540.0,764.1 544.4,764.9 549.0,755.1 555.5,755.1 561.2,760.3 566.1,761.6 566.6,752.7 569.4,751.0 574.8,749.9 576.7,740.7 582.4,742.4 587.3,739.6 587.8,733.1 593.1,730.6 596.3,731.4 608.6,731.4 609.7,729.5 616.7,730.6 618.9,728.2 624.9,731.1 631.4,733.1 633.1,738.0 636.3,742.9 639.6,741.7 638.8,746.1 645.3,747.8 648.6,750.2 652.7,754.3 656.7,753.5 660.8,755.4 664.6,758.7 665.7,756.7"/>
<path d="M664.9,757.1 668.2,755.0 674.7,755.5 679.6,753.4 684.5,748.5 687.8,748.5 691.0,752.7 698.4,755.8 701.1,754.7 708.2,762.0 713.9,763.7 721.2,770.2 726.9,771.8 731.8,776.7 735.1,780.8 730.2,783.3 727.8,787.3 729.4,791.4 732.7,793.1 735.9,797.1 742.4,798.0 745.7,801.2 746.5,808.6 749.8,808.6 752.2,811.0 750.6,815.1 747.3,820.0 744.1,816.7 740.0,815.9 737.6,818.4 738.4,822.4 741.6,825.7 743.3,829.5 747.3,828.2 749.5,831.4 747.3,836.3 751.4,840.4 756.3,846.9 759.6,846.9 766.1,851.8 771.0,857.6 773.5,859.2 776.7,860.0 775.9,865.7 773.5,870.6 775.1,874.2 778.4,872.6 783.3,875.5 784.4,878.8 782.8,882.9 784.9,887.8 784.4,892.7 787.3,895.4 791.4,894.3 795.5,893.5 798.0,896.7 798.6,897.2 799.6,902.7 795.7,907.6 792.7,912.5 795.7,919.3 802.5,925.6 809.4,924.6 818.2,923.3 827.0,927.6 837.8,932.5 842.3,930.1 841.7,920.3 847.6,918.8 846.6,913.5 843.7,904.7 838.8,898.2 847.6,892.3 853.5,896.8 859.3,899.4 866.2,896.8 869.1,892.3 876.0,892.3 879.9,898.8 883.8,903.1 889.3,899.4 895.6,903.7 901.5,909.0 904.4,910.9 907.3,909.6 911.7,909.9 910.9,918.4 910.3,925.2 913.2,932.1 916.2,939.9 915.8,949.7 920.1,954.6 924.0,952.7 926.0,947.4 931.8,945.2 929.9,938.0 929.9,932.1 936.7,929.7 941.0,932.1 937.7,937.0 939.7,939.5 945.6,937.4 948.5,942.9 952.4,946.8 957.9,949.7 960.2,945.8 967.7,943.8 971.0,947.8 973.0,953.0 974.9,948.1 981.8,946.8 989.2,944.8 996.5,947.8 1003.3,948.1 1004.3,951.7 1008.2,952.7 1011.2,949.7"/>
<path d="M461.2,708.6 455.5,706.9 450.6,703.7 444.9,699.3 440.0,701.2 439.5,711.0 439.2,711.3 433.5,712.7 429.4,710.2 424.5,712.3 418.8,712.7 413.1,709.1 406.5,707.4 403.3,705.3 399.2,706.1 395.1,708.6 393.5,711.8 387.8,717.9 387.8,725.7 385.0,731.9 381.2,727.3 378.8,723.3 369.8,720.0 364.1,719.7 360.0,724.9 355.9,727.7 344.5,731.1 338.8,731.4 333.1,736.8 331.4,734.7 329.8,729.8 324.1,725.4 330.6,720.8 331.4,715.1 322.4,706.1 325.7,702.0 327.3,698.0 321.3,696.0 318.4,686.5 318.4,682.4 303.7,668.2 287.3,661.2 286.5,665.3 284.1,668.6 275.1,671.8 273.5,667.8 271.8,661.2 277.6,650.6 282.4,647.8 277.6,641.6 264.5,631.0 262.9,627.8 258.3,623.7 250.6,628.9 244.1,626.9 240.0,627.4 250.2,628.7 244.7,626.9 239.1,627.8 236.3,624.6 233.6,625.4 228.0,624.5 221.0,625.4 220.6,614.8 218.4,612.1 215.1,611.1 211.7,616.1 204.3,612.1 205.4,606.5 200.3,597.3 194.7,587.1 191.9,584.3 184.5,586.2 176.2,581.5 164.2,576.0 158.6,566.7 155.9,564.0 142.9,564.0 139.2,566.2 138.3,569.1 134.9,569.1 134.0,571.7 130.0,571.0 124.4,572.3 120.7,570.4 117.9,571.4 112.9,568.0 107.8,570.4 105.3,567.7 107.8,562.1 112.4,552.9 110.0,542.3 106.3,540.3 105.0,536.2 104.1,528.4 107.8,525.1 112.4,515.9 116.1,507.5 116.4,500.1 114.2,494.6 106.8,488.1 101.3,478.9 83.7,473.7"/>
<path d="M84.2,364.0 93.5,353.0 96.2,360.4 113.1,361.6 116.7,368.9 121.2,369.5 120.9,371.9 114.9,375.5 111.3,380.9 111.5,388.1 111.9,396.5 110.1,398.3 107.1,393.5 103.4,392.3 99.8,395.9 101.4,401.3 99.8,404.9 99.2,409.7 92.6,412.1 92.0,415.2 95.0,417.0 95.6,421.8 100.4,425.4 96.8,430.8 92.6,436.2 91.8,445.8 90.8,453.0 88.4,457.2 84.2,460.2"/>
<path stroke-width="3.8" d="M580.0,372.2 579.2,378.5 576.3,381.4 577.7,384.4 578.5,386.6 577.0,389.6 575.5,392.2 577.0,394.7 573.3,397.0 572.9,400.0 574.7,400.0 575.5,406.5 573.1,411.4 570.6,415.5 574.7,419.6 578.0,426.1 578.8,432.7 582.0,436.7 578.8,440.8 577.1,440.0 580.4,442.4 584.5,444.1 584.5,448.2 582.0,450.6 584.5,454.7 588.6,457.1 592.7,458.3 591.0,462.9 591.8,467.8 594.3,471.0 595.1,475.1 596.7,470.2 599.2,467.8 600.0,472.7 604.1,476.7 608.2,480.0 611.4,479.2 613.1,484.1 612.6,489.0 609.8,492.6 613.1,495.5 614.7,499.6 613.9,502.9 616.3,506.9 620.4,510.2 624.5,515.1 627.8,519.2 633.5,519.2"/>
</g>
<circle cx="732" cy="386.5" r="5" fill="#fa0a0a" stroke="#600" stroke-width="0.8"/>
</g>
<rect x="85.5" y="45.5" width="925.0" height="1001.0" fill="none" stroke="#000" stroke-width="1"/>
<rect x="97.5" y="57.5" width="247" height="50" fill="#fff" stroke="#000" stroke-width="1"/>
<text x="103.6" y="76.6" font-size="16.67">Product: 1.5° Radial Velocity</text>
<text x="103.6" y="96.6" font-size="16.67">Data: DWD</text>
<text x="547.8" y="37.6" font-size="34.72" text-anchor="middle">03.02.2026 20:42 UTC</text>
<text x="159.5" y="1066.6" font-size="16.67" text-anchor="middle">5°E</text>
<text x="344.5" y="1066.6" font-size="16.67" text-anchor="middle">5.5°E</text>
<text x="529.5" y="1066.6" font-size="16.67" text-anchor="middle">6°E</text>
<text x="714.5" y="1066.6" font-size="16.67" text-anchor="middle">6.5°E</text>
<text x="899.5" y="1066.6" font-size="16.67" text-anchor="middle">7°E</text>
<text x="78.2" y="166.1" font-size="16.67" text-anchor="end">50.5°N</text>
<text x="78.2" y="311.1" font-size="16.67" text-anchor="end">50.25°N</text>
<text x="78.2" y="455.1" font-size="16.67" text-anchor="end">50°N</text>
<text x="78.2" y="598.1" font-size="16.67" text-anchor="end">49.75°N</text>
<text x="78.2" y="740.1" font-size="16.67" text-anchor="end">49.5°N</text>
<text x="78.2" y="882.1" font-size="16.67" text-anchor="end">49.25°N</text>
<text x="78.2" y="1023.1" font-size="16.67" text-anchor="end">49°N</text>
<rect x="1068.5" y="95.50" width="45.0" height="28.56" fill="#ffd0b4"/>
<rect x="1068.5" y="123.66" width="45.0" height="28.56" fill="#fca8c8"/>
<rect x="1068.5" y="151.81" width="45.0" height="28.56" fill="#fc88d0"/>
<rect x="1068.5" y="179.97" width="45.0" height="28.56" fill="#fc74a8"/>
<rect x="1068.5" y="208.12" width="45.0" height="28.56" fill="#fc5c88"/>
<rect x="1068.5" y="236.28" width="45.0" height="28.56" fill="#f84064"/>
<rect x="1068.5" y="264.44" width="45.0" height="28.56" fill="#f80008"/>
<rect x="1068.5" y="292.59" width="45.0" height="28.56" fill="#dc0010"/>
<rect x="1068.5" y="320.75" width="45.0" height="28.56" fill="#cc0010"/>
<rect x="1068.5" y="348.91" width="45.0" height="28.56" fill="#b4000c"/>
<rect x="1068.5" y="377.06" width="45.0" height="28.56" fill="#a00008"/>
<rect x="1068.5" y="405.22" width="45.0" height="28.56" fill="#880000"/>
<rect x="1068.5" y="433.38" width="45.0" height="28.56" fill="#700000"/>
<rect x="1068.5" y="461.53" width="45.0" height="28.56" fill="#884450"/>
<rect x="1068.5" y="489.69" width="45.0" height="28.56" fill="#886070"/>
<rect x="1068.5" y="517.84" width="45.0" height="28.56" fill="#887878"/>
<rect x="1068.5" y="546.00" width="45.0" height="28.56" fill="#6c8068"/>
<rect x="1068.5" y="574.16" width="45.0" height="28.56" fill="#5c7c58"/>
<rect x="1068.5" y="602.31" width="45.0" height="28.56" fill="#066800"/>
<rect x="1068.5" y="630.47" width="45.0" height="28.56" fill="#007800"/>
<rect x="1068.5" y="658.62" width="45.0" height="28.56" fill="#008c00"/>
<rect x="1068.5" y="686.78" width="45.0" height="28.56" fill="#08a008"/>
<rect x="1068.5" y="714.94" width="45.0" height="28.56" fill="#04b404"/>
<rect x="1068.5" y="743.09" width="45.0" height="28.56" fill="#00c800"/>
<rect x="1068.5" y="771.25" width="45.0" height="28.56" fill="#00d800"/>
<rect x="1068.5" y="799.41" width="45.0" height="28.56" fill="#00f000"/>
<rect x="1068.5" y="827.56" width="45.0" height="28.56" fill="#30f838"/>
<rect x="1068.5" y="855.72" width="45.0" height="28.56" fill="#60f478"/>
<rect x="1068.5" y="883.88" width="45.0" height="28.56" fill="#98f0c8"/>
<rect x="1068.5" y="912.03" width="45.0" height="28.56" fill="#a4e8f0"/>
<rect x="1068.5" y="940.19" width="45.0" height="28.56" fill="#8ce8ec"/>
<rect x="1068.5" y="968.34" width="45.0" height="28.56" fill="#78e4e8"/>
<rect x="1068.5" y="95.5" width="45.0" height="901.0" fill="none" stroke="#000" stroke-width="1"/>
<line x1="1113.5" y1="95.5" x2="1118.4" y2="95.5" stroke="#000" stroke-width="1"/>
<text x="1123.3" y="106.2" font-size="27.78">32</text>
<line x1="1113.5" y1="151.5" x2="1118.4" y2="151.5" stroke="#000" stroke-width="1"/>
<text x="1123.3" y="162.5" font-size="27.78">28</text>
<line x1="1113.5" y1="208.5" x2="1118.4" y2="208.5" stroke="#000" stroke-width="1"/>
<text x="1123.3" y="218.8" font-size="27.78">24</text>
<line x1="1113.5" y1="264.5" x2="1118.4" y2="264.5" stroke="#000" stroke-width="1"/>
<text x="1123.3" y="275.1" font-size="27.78">20</text>
<line x1="1113.5" y1="320.5" x2="1118.4" y2="320.5" stroke="#000" stroke-width="1"/>
<text x="1123.3" y="331.4" font-size="27.78">16</text>
<line x1="1113.5" y1="377.5" x2="1118.4" y2="377.5" stroke="#000" stroke-width="1"/>
<text x="1123.3" y="387.8" font-size="27.78">12</text>
<line x1="1113.5" y1="433.5" x2="1118.4" y2="433.5" stroke="#000" stroke-width="1"/>
<text x="1123.3" y="444.1" font-size="27.78">8</text>
<line x1="1113.5" y1="489.5" x2="1118.4" y2="489.5" stroke="#000" stroke-width="1"/>
<text x="1123.3" y="500.4" font-size="27.78">4</text>
<line x1="1113.5" y1="546.5" x2="1118.4" y2="546.5" stroke="#000" stroke-width="1"/>
<text x="1123.3" y="556.7" font-size="27.78">0</text>
<line x1="1113.5" y1="602.5" x2="1118.4" y2="602.5" stroke="#000" stroke-width="1"/>
<text x="1123.3" y="613.0" font-size="27.78">−4</text>
<line x1="1113.5" y1="658.5" x2="1118.4" y2="658.5" stroke="#000" stroke-width="1"/>
<text x="1123.3" y="669.3" font-size="27.78">−8</text>
<line x1="1113.5" y1="714.5" x2="1118.4" y2="714.5" stroke="#000" stroke-width="1"/>
<text x="1123.3" y="725.6" font-size="27.78">−12</text>
<line x1="1113.5" y1="771.5" x2="1118.4" y2="771.5" stroke="#000" stroke-width="1"/>
<text x="1123.3" y="782.0" font-size="27.78">−16</text>
<line x1="1113.5" y1="827.5" x2="1118.4" y2="827.5" stroke="#000" stroke-width="1"/>
<text x="1123.3" y="838.3" font-size="27.78">−20</text>
<line x1="1113.5" y1="883.5" x2="1118.4" y2="883.5" stroke="#000" stroke-width="1"/>
<text x="1123.3" y="894.6" font-size="27.78">−24</text>
<line x1="1113.5" y1="940.5" x2="1118.4" y2="940.5" stroke="#000" stroke-width="1"/>
<text x="1123.3" y="950.9" font-size="27.78">−28</text>
<line x1="1113.5" y1="996.5" x2="1118.4" y2="996.5" stroke="#000" stroke-width="1"/>
<text x="1123.3" y="1007.2" font-size="27.78">−32</text>
<text transform="translate(1210.8,548.6) rotate(-90)" font-size="27.78" text-anchor="middle">m/s</text>
</svg></body></html>
